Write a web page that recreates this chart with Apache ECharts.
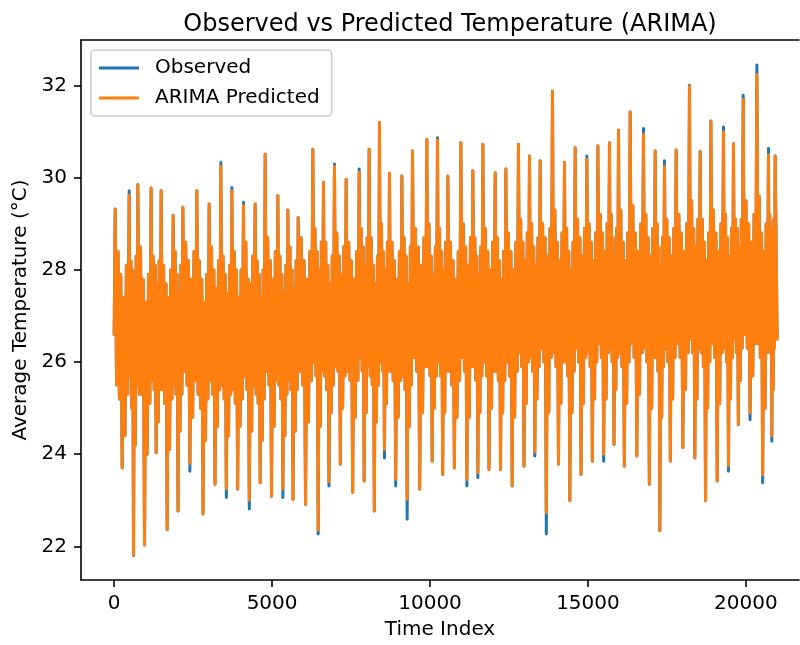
<!DOCTYPE html>
<html>
<head>
<meta charset="utf-8">
<script src="https://cdn.jsdelivr.net/npm/echarts@6/dist/echarts.min.js"></script>
<style>html,body{margin:0;padding:0;background:#fff}#c{width:800px;height:645px}</style>
</head>
<body>
<div id="c"></div>
<script>
// ---- data ----
const titleText = 'Observed vs Predicted Temperature (ARIMA)';
const seriesNames = ['Observed', 'ARIMA Predicted'];
const xTicks = [0, 5000, 10000, 15000, 20000];
const yTicks = [22, 24, 26, 28, 30, 32];

// time index of each seasonal peak
const peakTime = [32, 475, 750, 1171, 1488, 1868, 2175, 2618, 3008, 3378, 3726, 4094, 4464, 4781, 5183, 5500, 5826, 6291, 6627, 6975, 7345, 7757, 8073, 8400, 8716, 9109, 9445, 9900, 10236, 10565, 10977, 11357, 11673, 12063, 12401, 12800, 13149, 13487, 13877, 14257, 14596, 14966, 15314, 15682, 15967, 16337, 16758, 17129, 17423, 17793, 18214, 18553, 18892, 19291, 19608, 19915, 20348, 20716, 20928];
const obsPeak = [29.32, 29.72, 29.85, 29.78, 29.72, 29.18, 29.36, 29.72, 29.43, 30.33, 29.79, 29.47, 29.43, 30.51, 29.61, 29.30, 29.14, 30.62, 29.90, 30.30, 29.97, 30.19, 30.62, 31.20, 30.10, 30.04, 30.58, 30.83, 30.87, 30.04, 30.76, 30.15, 30.73, 30.11, 30.19, 30.73, 30.47, 30.37, 31.88, 30.33, 30.65, 30.47, 30.69, 30.76, 31.03, 31.43, 31.07, 30.58, 30.37, 30.60, 32.01, 30.57, 31.23, 31.10, 30.74, 31.79, 32.45, 30.64, 30.47];
const predPeak = [29.32, 29.62, 29.85, 29.78, 29.72, 29.18, 29.36, 29.72, 29.43, 30.25, 29.72, 29.40, 29.43, 30.51, 29.61, 29.30, 29.14, 30.62, 29.90, 30.25, 29.97, 30.12, 30.62, 31.20, 30.10, 30.04, 30.58, 30.83, 30.82, 30.04, 30.76, 30.15, 30.73, 30.11, 30.19, 30.73, 30.47, 30.37, 31.88, 30.33, 30.65, 30.40, 30.69, 30.76, 31.03, 31.43, 30.95, 30.58, 30.25, 30.60, 31.98, 30.57, 31.23, 31.00, 30.74, 31.70, 32.24, 30.50, 30.47];
// seasonal trough between peak i and peak i+1
const obsTrough = [23.70, 21.80, 22.03, 24.03, 22.36, 22.77, 23.63, 22.70, 23.35, 23.06, 23.24, 22.81, 23.38, 23.09, 23.06, 23.02, 22.91, 22.27, 23.31, 23.78, 23.17, 23.42, 22.77, 23.92, 23.31, 22.59, 23.24, 23.85, 23.56, 23.70, 23.31, 23.49, 23.67, 23.67, 23.31, 23.74, 23.96, 22.27, 23.78, 22.99, 23.56, 23.85, 23.85, 24.21, 23.74, 23.96, 23.35, 22.34, 23.85, 24.14, 23.92, 22.99, 23.42, 23.63, 24.64, 24.75, 23.38, 24.28];
const predTrough = [23.70, 21.82, 22.03, 24.03, 22.36, 22.77, 23.80, 22.70, 23.35, 23.25, 23.24, 23.00, 23.38, 23.09, 23.25, 23.02, 22.91, 22.35, 23.40, 23.78, 23.17, 23.42, 22.77, 24.10, 23.45, 23.02, 23.24, 23.85, 23.56, 23.70, 23.45, 23.60, 23.67, 23.67, 23.31, 23.74, 24.05, 22.73, 23.78, 22.99, 23.56, 23.85, 24.00, 24.21, 23.74, 23.96, 23.35, 22.34, 23.85, 24.14, 23.92, 22.99, 23.42, 23.75, 24.64, 24.90, 23.55, 24.40];
// day-to-day swings inside each cycle: 4 after the peak, 4 after the trough
const swings = [
[25.5,28.4,25.2,27.9,27.4,24.4,28.1,25.3],[25.7,28.2,25.0,28.0,27.6,24.2,28.3,25.5],[25.3,28.5,25.3,27.8,27.3,24.0,27.9,25.1],
[25.6,28.3,25.4,28.1,27.7,24.7,28.2,25.4],[25.4,28.1,25.1,27.7,27.4,24.1,28.0,25.2],[25.5,28.4,25.3,27.9,27.5,24.5,28.1,25.3],
[25.8,28.6,25.5,28.2,27.8,24.8,28.4,25.6],[25.3,28.2,25.0,27.8,27.3,24.3,27.9,25.2],[25.6,28.5,25.3,28.0,27.6,24.6,28.2,25.4],
[25.5,28.3,25.2,27.9,27.5,24.4,28.1,25.3],[25.4,28.4,25.1,28.0,27.4,24.6,28.0,25.2],[25.7,28.6,25.4,27.8,27.7,24.5,28.3,25.5],
[25.3,28.2,25.1,27.9,27.4,24.3,28.0,25.2],[25.8,28.7,25.5,28.2,27.8,24.6,28.4,25.6],[25.5,28.3,25.2,27.9,27.5,24.4,28.1,25.3],
[25.6,28.5,25.4,28.0,27.6,24.5,28.2,25.4],[25.8,28.7,25.5,28.2,27.8,24.7,28.4,25.6],[26.0,28.9,25.7,28.4,28.0,24.6,28.6,25.8],
[25.7,28.6,25.4,28.1,27.7,24.9,28.3,25.5],[25.9,28.8,25.8,28.3,27.9,25.0,28.5,25.7],[25.8,28.6,25.6,28.2,27.8,24.8,28.4,25.6],
[26.1,28.9,25.8,28.5,28.1,24.9,28.7,25.9],[25.7,28.7,25.5,28.1,27.7,24.7,28.3,25.5],[26.0,29.0,25.8,28.4,28.0,25.1,28.6,25.8],
[25.8,28.6,25.6,28.2,27.8,24.8,28.4,25.6],[25.7,28.7,25.4,28.3,27.7,24.6,28.5,25.5],[26.1,28.9,25.8,28.5,28.1,24.9,28.7,25.9],
[25.9,29.0,25.7,28.3,27.9,25.0,28.5,25.7],[26.0,28.9,25.7,28.4,28.0,24.9,28.6,25.8],[25.8,28.6,25.5,28.2,27.8,24.8,28.4,25.6],
[26.1,29.0,25.8,28.5,28.1,24.8,28.7,25.9],[25.9,28.7,25.6,28.3,27.9,24.9,28.5,25.7],[26.0,28.9,25.7,28.4,28.0,25.0,28.6,25.8],
[25.8,28.7,25.6,28.2,27.8,24.9,28.4,25.6],[26.0,28.8,25.7,28.4,28.0,24.8,28.6,25.8],[26.2,29.1,25.9,28.6,28.2,25.1,28.8,26.0],
[26.1,29.0,25.8,28.5,28.1,25.2,28.7,25.9],[26.3,29.0,26.0,28.7,28.3,24.9,28.9,26.1],[26.2,29.3,25.9,28.6,28.2,25.1,28.8,26.0],
[26.0,28.9,25.7,28.4,28.0,24.9,28.6,25.8],[26.3,29.1,26.0,28.7,28.3,25.1,28.9,26.1],[26.2,29.0,25.9,28.6,28.2,25.2,28.8,26.0],
[26.4,29.2,26.1,28.8,28.4,25.2,29.0,26.2],[26.3,29.2,26.0,28.7,28.3,25.4,28.9,26.1],[26.2,29.3,25.9,28.6,28.2,25.1,28.8,26.0],
[26.4,29.4,26.1,28.8,28.4,25.3,29.0,26.2],[26.3,29.2,26.0,28.7,28.3,25.0,28.9,26.1],[26.1,29.0,25.8,28.5,28.1,24.8,28.7,25.9],
[26.3,29.1,26.0,28.7,28.3,25.2,28.9,26.1],[26.4,29.2,26.1,28.8,28.4,25.4,29.0,26.2],[26.5,29.5,26.2,28.9,28.5,25.2,29.1,26.3],
[26.2,29.1,25.9,28.6,28.2,25.0,28.8,26.0],[26.4,29.3,26.1,28.8,28.4,25.1,29.0,26.2],[26.3,29.2,26.0,28.7,28.3,25.2,28.9,26.1],
[26.5,29.1,26.2,28.9,28.5,25.6,29.1,26.3],[26.6,29.5,26.3,29.0,28.6,25.7,29.2,26.4],[26.4,29.6,26.1,28.8,28.4,25.0,29.0,26.2],
[26.5,29.2,26.2,28.9,28.5,25.4,29.1,26.3]
];
const startPoint = [0, 26.6];
const endPoint = [20990, 26.5];

// ---- build the point lists ----
function buildSeries(peaks, troughs) {
  const pts = [startPoint];
  for (let i = 0; i < peakTime.length - 1; i++) {
    const t0 = peakTime[i], t1 = peakTime[i + 1];
    const s = swings[i];
    const seq = [peaks[i], s[0], s[1], s[2], s[3], troughs[i], s[4], s[5], s[6], s[7]];
    for (let k = 0; k < seq.length; k++) {
      pts.push([Math.round(t0 + (t1 - t0) * k / seq.length), seq[k]]);
    }
  }
  pts.push([peakTime[peakTime.length - 1], peaks[peaks.length - 1]]);
  pts.push(endPoint);
  return pts;
}
const observed = buildSeries(obsPeak, obsTrough);
const predicted = buildSeries(predPeak, predTrough);

const FONT = 'DejaVu Sans';
const X_MIN = -1050, X_MAX = 21682, Y_MIN = 21.27, Y_MAX = 32.99;
const chart = echarts.init(document.getElementById('c'), null, {renderer: 'canvas'});
const spine = {show: true, onZero: false, lineStyle: {color: '#000', width: 1.6}};
chart.setOption({
  animation: false,
  backgroundColor: '#ffffff',
  title: {
    text: titleText, left: 445, top: 8, textAlign: 'center',
    textStyle: {fontFamily: FONT, fontSize: 24, fontWeight: 'normal', color: '#000'}
  },
  legend: {
    orient: 'vertical', left: 91, top: 50,
    padding: [8, 12, 8, 8], itemGap: 10,
    itemWidth: 40, itemHeight: 3, icon: 'rect',
    backgroundColor: 'rgba(255,255,255,0.8)', borderColor: '#cccccc', borderWidth: 1.6, borderRadius: 4,
    textStyle: {fontFamily: FONT, fontSize: 20, color: '#000', lineHeight: 20, padding: [0, 0, 0, 11]},
    data: seriesNames
  },
  grid: {left: 81, top: 40, width: 718, height: 543, show: false, containLabel: false},
  xAxis: [{
    type: 'value', min: X_MIN, max: X_MAX,
    name: 'Time Index', nameLocation: 'middle', nameGap: 40,
    nameTextStyle: {fontFamily: FONT, fontSize: 20, color: '#000'},
    axisLine: spine,
    axisTick: {show: true, length: 7, lineStyle: {color: '#000', width: 1.6}, customValues: xTicks},
    axisLabel: {fontFamily: FONT, fontSize: 20, color: '#000', margin: 14, customValues: xTicks,
                formatter: v => String(v)},
    splitLine: {show: false}
  }, {
    type: 'value', position: 'top', min: X_MIN, max: X_MAX,
    axisLine: spine, axisTick: {show: false}, axisLabel: {show: false}, splitLine: {show: false}
  }],
  yAxis: {
    type: 'value', min: Y_MIN, max: Y_MAX,
    name: 'Average Temperature (°C)', nameLocation: 'middle', nameGap: 50,
    nameTextStyle: {fontFamily: FONT, fontSize: 20, color: '#000'},
    axisLine: spine,
    axisTick: {show: true, length: 7, lineStyle: {color: '#000', width: 1.6}, customValues: yTicks},
    axisLabel: {fontFamily: FONT, fontSize: 20, color: '#000', margin: 14, customValues: yTicks},
    splitLine: {show: false}
  },
  series: [
    {name: seriesNames[0], type: 'line', data: observed, showSymbol: false, symbol: 'none',
     lineStyle: {color: '#1f77b4', width: 3, join: 'round', cap: 'round'}, itemStyle: {color: '#1f77b4'}, clip: true},
    {name: seriesNames[1], type: 'line', data: predicted, showSymbol: false, symbol: 'none',
     lineStyle: {color: '#ff7f0e', width: 3, join: 'round', cap: 'round'}, itemStyle: {color: '#ff7f0e'}, clip: true}
  ]
});
</script>
</body>
</html>
